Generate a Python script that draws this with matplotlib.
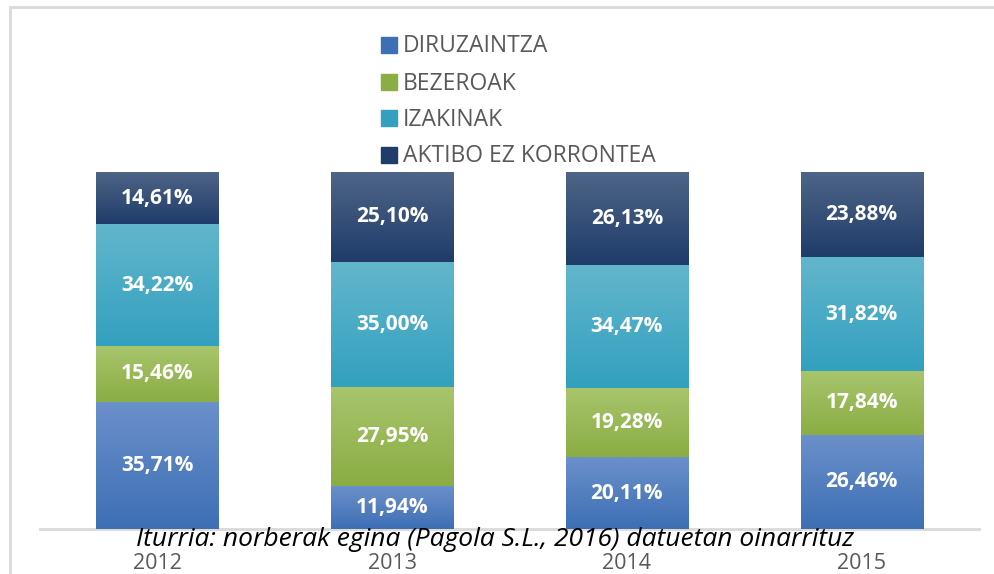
import numpy as np
import matplotlib
matplotlib.use("Agg")
import matplotlib.pyplot as plt
from matplotlib.colors import LinearSegmentedColormap
from matplotlib.patches import Rectangle

plt.rcParams['font.family'] = ['Open Sans', 'DejaVu Sans']

years = ['2012', '2013', '2014', '2015']
series_names = ['DIRUZAINTZA', 'BEZEROAK', 'IZAKINAK', 'AKTIBO EZ KORRONTEA']
diruzaintza = [35.71, 11.94, 20.11, 26.46]
bezeroak = [15.46, 27.95, 19.28, 17.84]
izakinak = [34.22, 35.00, 34.47, 31.82]
aktibo = [14.61, 25.10, 26.13, 23.88]
source = 'Iturria: norberak egina (Pagola S.L., 2016) datuetan oinarrituz'

# (bottom colour, top colour) for the excel-like gradient
colors = [('#3d6fb5', '#6b90ca'),
          ('#8aad44', '#a8c56c'),
          ('#33a0bf', '#62b6cc'),
          ('#1f3c6a', '#4e6587')]

W, H = 994, 574
fig = plt.figure(figsize=(W / 100, H / 100), dpi=100)
ax = fig.add_axes([40 / W, 1 - 529 / H, (979 - 40) / W, (529 - 172) / H])

x = np.arange(len(years))
width = 0.52
bottom = np.zeros(len(years))
grad = np.linspace(0, 1, 64).reshape(-1, 1)

for name, vals, (c0, c1) in zip(series_names, [diruzaintza, bezeroak, izakinak, aktibo], colors):
    bars = ax.bar(x, vals, width, bottom=bottom, color='none', edgecolor='none', zorder=2)
    cmap = LinearSegmentedColormap.from_list(name, [c0, c1])
    for rect in bars:
        x0, y0 = rect.get_x(), rect.get_y()
        im = ax.imshow(grad, extent=[x0, x0 + rect.get_width(), y0, y0 + rect.get_height()],
                       origin='lower', cmap=cmap, aspect='auto', zorder=2)
        im.set_clip_path(rect)
    ax.bar_label(bars, labels=[f'{v:.2f}%'.replace('.', ',') for v in vals],
                 label_type='center', color='white', fontweight='bold', fontsize=15,
                 padding=0, zorder=3)
    bottom += np.array(vals)

ax.set_xlim(-0.5, len(years) - 0.5)
ax.set_ylim(0, 100)
ax.set_xticks(x, years)
ax.tick_params(axis='x', length=0, pad=17, labelsize=15.5, labelcolor='#595959')
ax.set_yticks([])
for s in ['top', 'left', 'right']:
    ax.spines[s].set_visible(False)
ax.spines['bottom'].set_color('#d9d9d9')
ax.spines['bottom'].set_linewidth(2)
ax.spines['bottom'].set_zorder(1)

# legend, drawn by hand (vertical, centred at top)
rows_y = [45, 82, 118, 155]
for (c0, c1), name, py in zip(colors, series_names, rows_y):
    fig.add_artist(Rectangle((381 / W, 1 - (py + 8) / H), 16 / W, 16 / H,
                             transform=fig.transFigure, color=c0))
    fig.text(403 / W, 1 - (py + 1.5) / H, name, fontsize=16.5, color='#595959',
             va='center', ha='left')

fig.text(495 / W, 1 - 540 / H, source, fontsize=19, style='italic', color='black',
         ha='center', va='center')

# chart border
fig.add_artist(Rectangle((9.5 / W, -0.1), 1.1, 1.1 - 7.5 / H, transform=fig.transFigure,
                         fill=False, ec='#d9d9d9', lw=2))

fig.savefig('out.png', dpi=100)
